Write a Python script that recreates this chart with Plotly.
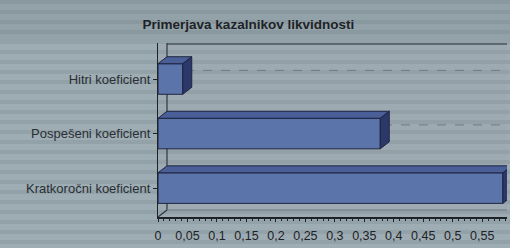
import plotly.graph_objects as go

# ---- data ----
categories = ["Kratkoročni koeficient", "Pospešeni koeficient", "Hitri koeficient"]
values = [0.585, 0.377, 0.042]
tick_vals = [0, 0.05, 0.1, 0.15, 0.2, 0.25, 0.3, 0.35, 0.4, 0.45, 0.5, 0.55]
tick_text = ["0", "0,05", "0,1", "0,15", "0,2", "0,25", "0,3", "0,35", "0,4", "0,45", "0,5", "0,55"]
title_text = "Primerjava kazalnikov likvidnosti"

W, H = 510, 248
ML, MR, MT, MB = 158, 3, 43, 31
xr = [0, 0.592]
yr = [-0.53, 2.66]
bar_w = 0.56
px_x = (W - ML - MR) / (xr[1] - xr[0])
px_y = (H - MT - MB) / (yr[1] - yr[0])
dx = 9 / px_x
dy = 7 / px_y

front = "#5b75ab"
top_c = "#4a5f98"
side_c = "#2c376a"
edge = "#1f2540"

ypos = list(range(len(categories)))

fig = go.Figure()
fig.add_trace(go.Bar(
    x=values, y=ypos, orientation="h", width=bar_w,
    marker=dict(color=front, line=dict(color=edge, width=1)),
    hoverinfo="skip", showlegend=False,
))

shapes = []
pw = W - ML - MR
ph = H - MT - MB
# darker top band of the scanned page
shapes.append(dict(type="rect", xref="paper", yref="paper",
                   x0=-ML / pw, x1=1 + MR / pw, y0=(H - MB) / ph, y1=(H - MB - 40) / ph,
                   fillcolor="rgba(70,90,100,0.12)", line=dict(width=0), layer="below"))
for i in range(0, H, 10):
    shapes.append(dict(type="rect", xref="paper", yref="paper",
                       x0=-ML / pw, x1=1 + MR / pw,
                       y0=(H - MB - i) / ph, y1=(H - MB - i - 4) / ph,
                       fillcolor="rgba(60,75,85,0.10)", line=dict(width=0), layer="below"))

for yc in ypos:
    shapes.append(dict(type="line", xref="x", yref="y", x0=dx, x1=xr[1],
                       y0=yc + dy + 0.03, y1=yc + dy + 0.03,
                       line=dict(color="#6e7b84", width=1, dash="dash"), layer="below"))
shapes.append(dict(type="line", xref="x", yref="y", x0=dx, x1=xr[1],
                   y0=yr[1] - 0.02, y1=yr[1] - 0.02,
                   line=dict(color="#4a545a", width=1.5), layer="below"))

for yc, v in zip(ypos, values):
    t = yc + bar_w / 2
    b = yc - bar_w / 2
    shapes.append(dict(type="path", xref="x", yref="y",
                       path=f"M0,{t} L{v},{t} L{v+dx},{t+dy} L{dx},{t+dy} Z",
                       fillcolor=top_c, line=dict(color=edge, width=1)))
    shapes.append(dict(type="path", xref="x", yref="y",
                       path=f"M{v},{b} L{v},{t} L{v+dx},{t+dy} L{v+dx},{b+dy} Z",
                       fillcolor=side_c, line=dict(color=edge, width=1)))

shapes.append(dict(type="line", xref="x", yref="y", x0=dx, x1=dx, y0=yr[0] + dy, y1=yr[1],
                   line=dict(color="#30363a", width=1.2), layer="below"))
shapes.append(dict(type="line", xref="x", yref="y", x0=0, x1=dx, y0=yr[0], y1=yr[0] + dy,
                   line=dict(color="#30363a", width=1.2), layer="below"))
shapes.append(dict(type="line", xref="x", yref="y", x0=dx, x1=xr[1], y0=yr[0] + dy, y1=yr[0] + dy,
                   line=dict(color="#6e7b84", width=1), layer="below"))

fig.update_layout(
    width=W, height=H,
    margin=dict(l=ML, r=MR, t=MT, b=MB, autoexpand=False),
    paper_bgcolor="#9eacb3",
    plot_bgcolor="#9daab1",
    font=dict(family="Liberation Sans, Arial, sans-serif", size=12, color="#1e2226"),
    title=dict(text=f"<b>{title_text}</b>", x=0.487, xanchor="center", y=0.903, yanchor="middle",
               font=dict(size=13.5, color="#1e2226")),
    bargap=0.4,
    shapes=shapes,
    xaxis=dict(range=xr, tickvals=tick_vals, ticktext=tick_text, showgrid=False, zeroline=False,
               automargin=False, ticklabelstandoff=3,
               showline=True, linecolor="#1e2226", linewidth=2, ticks="outside", ticklen=3,
               tickcolor="#1e2226", tickfont=dict(size=12.5),
               minor=dict(ticks="outside", ticklen=2, dtick=0.01, tickcolor="#1e2226", showgrid=False)),
    yaxis=dict(range=yr, tickvals=ypos, ticktext=categories, showgrid=False, zeroline=False,
               automargin=False,
               showline=True, linecolor="#1e2226", linewidth=1.2, ticks="outside", ticklen=4,
               tickcolor="#1e2226", tickfont=dict(size=13, color="#2a2f33")),
)

fig.write_html("out.html", config={"displayModeBar": False},
               post_script="document.body.style.margin='0';document.body.style.overflow='hidden';")
